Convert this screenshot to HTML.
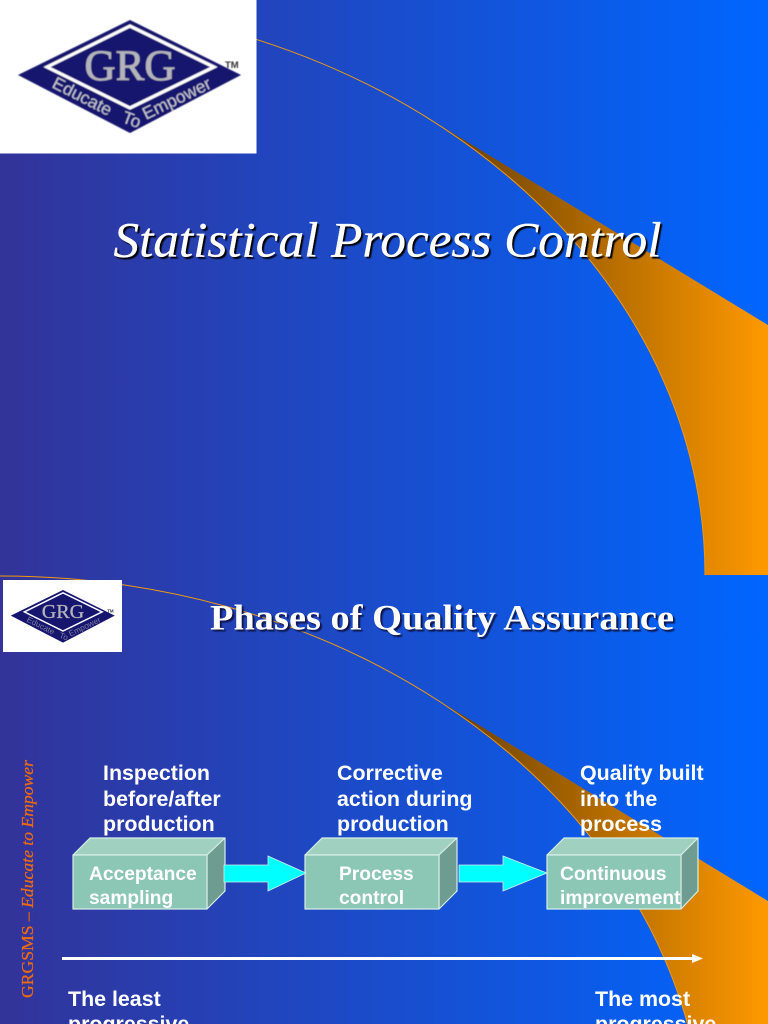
<!DOCTYPE html>
<html><head><meta charset="utf-8"><style>
html,body{margin:0;padding:0;background:#0066ff}
svg{display:block}
text{font-family:"Liberation Sans",sans-serif}
.serif{font-family:"Liberation Serif",serif}
.b{font-weight:bold;font-size:21.4px;fill:#fff}
.c{font-weight:bold;font-size:19.2px;fill:#fff}
</style></head><body>
<svg xmlns="http://www.w3.org/2000/svg" width="768" height="1024" viewBox="0 0 768 1024">
<defs>
<linearGradient id="bg" x1="0" x2="1" y1="0" y2="0"><stop offset="0" stop-color="#333399"/><stop offset="1" stop-color="#0066ff"/></linearGradient>
<linearGradient id="or" gradientUnits="userSpaceOnUse" x1="215" x2="768" y1="0" y2="0"><stop offset="0" stop-color="#000"/><stop offset="1" stop-color="#ff9900"/></linearGradient>
<filter id="soft" x="-5%" y="-5%" width="110%" height="110%"><feGaussianBlur stdDeviation="0.5"/></filter>
<filter id="soft2" x="-5%" y="-5%" width="110%" height="110%"><feGaussianBlur stdDeviation="0.4"/></filter>
<filter id="sh" x="-5%" y="-20%" width="110%" height="140%"><feGaussianBlur stdDeviation="0.6"/></filter>
</defs>
<rect width="768" height="1024" fill="url(#bg)"/>

<!-- swoosh 1 -->
<path d="M425 116.2 L768 325 L768 575 L705 575 A705 575 0 0 0 425 116.2Z" fill="url(#or)"/>
<path d="M705 575 A705 575 0 0 0 256 39.3" fill="none" stroke="#f09a10" stroke-width="1"/>
<!-- swoosh 2 -->
<path d="M425 692.2 L768 901 L768 1024 L687.6 1024 A705 575 0 0 0 425 692.2Z" fill="url(#or)"/>
<path d="M687.6 1024 A705 575 0 0 0 0 576" fill="none" stroke="#f09a10" stroke-width="1"/>

<!-- logo 1 -->
<rect x="0" y="0" width="256.5" height="153.5" fill="#fff"/>
<g filter="url(#soft)">
<path d="M18 75 L130 20 L241 75 L130 133Z" fill="#14126e"/>
<path d="M47 67 L130 26 L214 67 L130 108Z" fill="none" stroke="#fff" stroke-width="3.2"/>
<text class="serif" x="130" y="80" text-anchor="middle" font-size="43" fill="#b4b4bc" stroke="#b4b4bc" stroke-width="0.7" textLength="91" lengthAdjust="spacingAndGlyphs">GRG</text>
<text x="0" y="0" font-size="17.5" fill="#c4c4d0" transform="translate(51 87) rotate(27)">Educate</text>
<text x="0" y="0" font-size="17.5" fill="#c4c4d0" transform="translate(121 122) rotate(20)">To</text>
<text x="0" y="0" font-size="17.5" fill="#c4c4d0" transform="translate(146 120) rotate(-26)">Empower</text>
<text x="225" y="68" font-size="9.5" font-weight="bold" fill="#333">TM</text>
</g>

<!-- logo 2 -->
<rect x="3" y="580" width="119" height="72" fill="#fff"/>
<g filter="url(#soft2)" transform="translate(2.4 580.7) scale(.466)">
<path d="M18 75 L130 20 L241 75 L130 133Z" fill="#14126e"/>
<path d="M47 67 L130 26 L214 67 L130 108Z" fill="none" stroke="#fff" stroke-width="3.2"/>
<text class="serif" x="130" y="80" text-anchor="middle" font-size="43" fill="#b4b4bc" stroke="#b4b4bc" stroke-width="0.7" textLength="91" lengthAdjust="spacingAndGlyphs">GRG</text>
<text x="0" y="0" font-size="17.5" fill="#8080a4" transform="translate(51 87) rotate(27)">Educate</text>
<text x="0" y="0" font-size="17.5" fill="#8080a4" transform="translate(121 122) rotate(20)">To</text>
<text x="0" y="0" font-size="17.5" fill="#8080a4" transform="translate(146 120) rotate(-26)">Empower</text>
<text x="225" y="68" font-size="9.5" font-weight="bold" fill="#333">TM</text>
</g>

<!-- titles -->
<text class="serif" x="115.5" y="258.5" font-size="50" font-style="italic" fill="#000" filter="url(#sh)" textLength="548" lengthAdjust="spacingAndGlyphs">Statistical Process Control</text>
<text class="serif" x="113.5" y="256.5" font-size="50" font-style="italic" fill="#fff" stroke="#fff" stroke-width="0.3" textLength="548" lengthAdjust="spacingAndGlyphs">Statistical Process Control</text>
<text class="serif" x="212" y="631.5" font-size="36" font-weight="bold" fill="#10124a" filter="url(#sh)" textLength="464" lengthAdjust="spacingAndGlyphs">Phases of Quality Assurance</text>
<text class="serif" x="210" y="629.5" font-size="36" font-weight="bold" fill="#fff" textLength="464" lengthAdjust="spacingAndGlyphs">Phases of Quality Assurance</text>

<!-- side text -->
<text class="serif" transform="translate(33 998) rotate(-90)" font-size="16.5" fill="#ee6a10" stroke="#ee6a10" stroke-width="0.25" textLength="238" lengthAdjust="spacingAndGlyphs">GRGSMS – <tspan font-style="italic">Educate to Empower</tspan></text>

<!-- captions -->
<text class="b" x="103" y="780">Inspection</text>
<text class="b" x="103" y="806">before/after</text>
<text class="b" x="103" y="831">production</text>
<text class="b" x="337" y="780">Corrective</text>
<text class="b" x="337" y="806">action during</text>
<text class="b" x="337" y="831">production</text>
<text class="b" x="580" y="780">Quality built</text>
<text class="b" x="580" y="806">into the</text>
<text class="b" x="580" y="831">process</text>

<!-- boxes -->
<g stroke="#d6eee6" stroke-width="1.2" stroke-linejoin="round">
<path d="M73 855 L90 838 L225 838 L207 855Z" fill="#a0d0c0"/>
<path d="M207 855 L225 838 L225 891 L207 909Z" fill="#6f9c90"/>
<rect x="73" y="855" width="134" height="54" fill="#8cc6b4"/>
<path d="M305 855 L322 838 L457 838 L439 855Z" fill="#a0d0c0"/>
<path d="M439 855 L457 838 L457 891 L439 909Z" fill="#6f9c90"/>
<rect x="305" y="855" width="134" height="54" fill="#8cc6b4"/>
<path d="M547 855 L564 838 L698 838 L681 855Z" fill="#a0d0c0"/>
<path d="M681 855 L698 838 L698 891 L681 909Z" fill="#6f9c90"/>
<rect x="547" y="855" width="134" height="54" fill="#8cc6b4"/>
</g>
<text class="c" x="89" y="880">Acceptance</text>
<text class="c" x="89" y="904">sampling</text>
<text class="c" x="339" y="880">Process</text>
<text class="c" x="339" y="904">control</text>
<text class="c" x="560" y="880">Continuous</text>
<text class="c" x="560" y="904">improvement</text>

<!-- block arrows -->
<path d="M224 865 L268 865 L268 856 L306 873 L268 891 L268 882 L224 882Z" fill="#00ffff" stroke="#d6eee6" stroke-width="0.8"/>
<path d="M459 865 L503 865 L503 856 L547 873 L503 891 L503 882 L459 882Z" fill="#00ffff" stroke="#d6eee6" stroke-width="0.8"/>

<!-- axis -->
<rect x="62" y="957" width="632" height="3" fill="#fff"/>
<path d="M692 954 L703 958.5 L692 963Z" fill="#fff"/>

<text class="b" x="68" y="1006">The least</text>
<text class="b" x="68" y="1031">progressive</text>
<text class="b" x="595" y="1006">The most</text>
<text class="b" x="595" y="1031">progressive</text>
</svg>
</body></html>
